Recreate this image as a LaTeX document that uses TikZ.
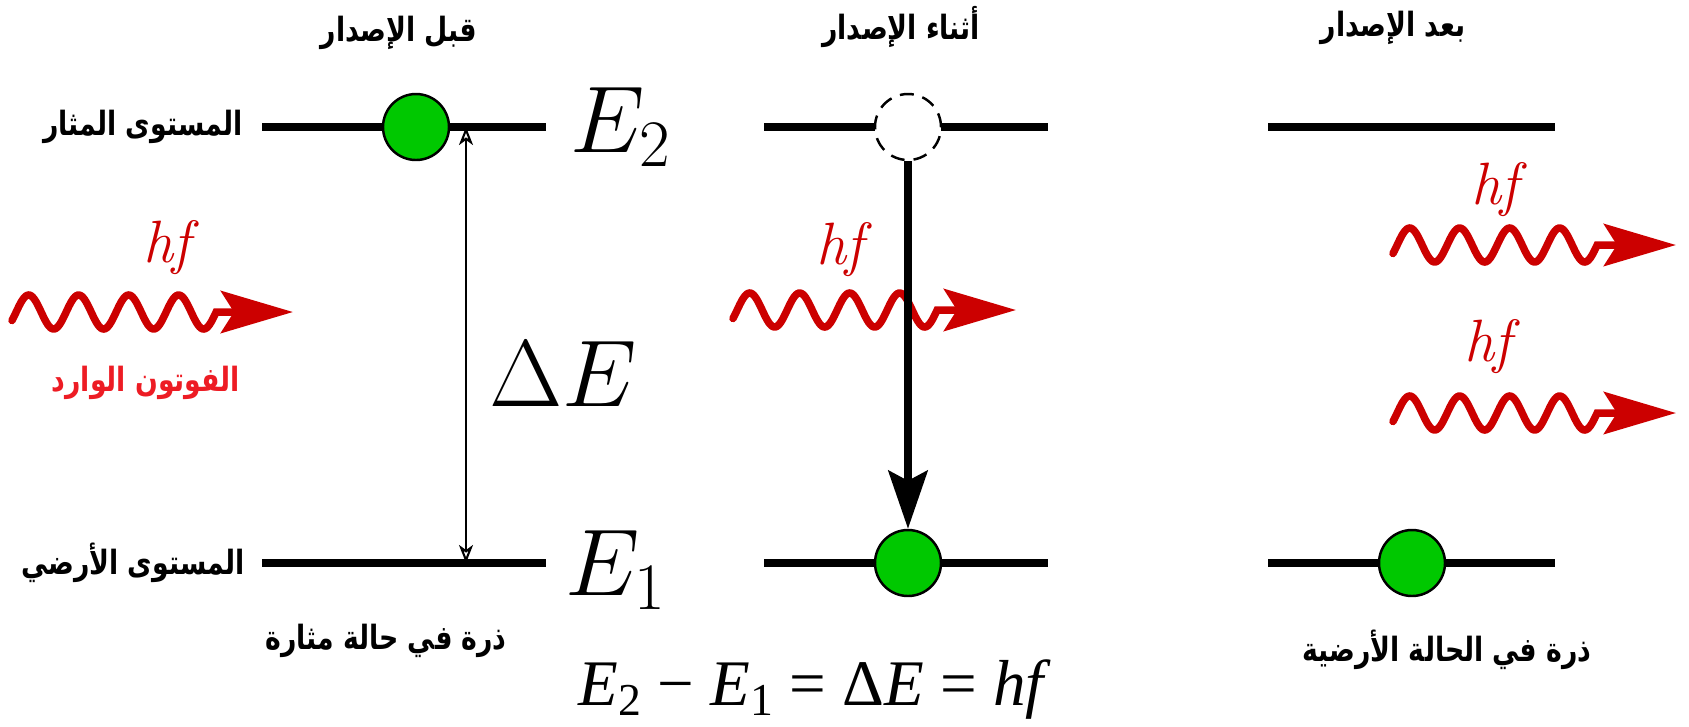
\RequirePackage{fix-cm}
\documentclass[tikz,border=0pt]{standalone}
\usepackage{fontspec}
\usepackage{tikz}
\usetikzlibrary{arrows.meta, positioning}
\TeXXeTstate=1
\newfontfamily\arabicfont[Script=Arabic, FakeStretch=0.8]{DejaVu Sans}
\newfontfamily\eqfont{Liberation Serif}
\definecolor{atomgreen}{RGB}{0,200,0}
\definecolor{photonred}{RGB}{204,0,0}
\definecolor{labelred}{RGB}{237,28,36}
\newcommand{\lowsub}[1]{\raisebox{-0.16em}{\fontsize{13}{15}\selectfont #1}}

\begin{document}
\begin{tikzpicture}[
    x=0.1mm, y=-0.1mm,
    energyline/.style={line width=0.8mm},
    atom/.style={circle, draw, line width=0.7pt, fill=atomgreen, minimum size=6.6mm, inner sep=0pt},
    hole/.style={circle, draw, line width=0.7pt, dash pattern=on 1.4mm off 0.9mm, fill=white, minimum size=6.6mm, inner sep=0pt},
    photon/.style={draw=photonred, line width=0.75mm, line cap=round, -{Stealth[length=7.2mm, width=4.2mm, inset=1.3mm]}},
    arlabel/.style={font=\arabicfont\bfseries\fontsize{9.5}{11}\selectfont, inner sep=0pt},
    big/.style={font=\fontsize{27}{32}\selectfont, inner sep=0pt},
    hflabel/.style={text=photonred, font=\fontsize{17}{20}\selectfont\itshape, inner sep=0pt}
]
\useasboundingbox (0,0) rectangle (1689,726);

% Titles
\node[arlabel] (t_before) at (399,33) {\beginR قبل الإصدار\endR};
\node[arlabel] (t_during) at (901,27) {\beginR أثناء الإصدار\endR};
\node[arlabel] (t_after) at (1393,28) {\beginR بعد الإصدار\endR};

% Levels
\coordinate (l1_up_w) at (262,127);
\coordinate (l1_up_e) at (546,127);
\coordinate (l1_lo_w) at (262,563);
\coordinate (l1_lo_e) at (546,563);
\coordinate (l2_up_w) at (764,127);
\coordinate (l2_up_e) at (1048,127);
\coordinate (l2_lo_w) at (764,563);
\coordinate (l2_lo_e) at (1048,563);
\coordinate (l3_up_w) at (1268,127);
\coordinate (l3_up_e) at (1555,127);
\coordinate (l3_lo_w) at (1268,563);
\coordinate (l3_lo_e) at (1555,563);

\draw[energyline] (l1_up_w) -- (l1_up_e);
\draw[energyline] (l1_lo_w) -- (l1_lo_e);
\draw[energyline] (l2_up_w) -- (l2_up_e);
\draw[energyline] (l2_lo_w) -- (l2_lo_e);
\draw[energyline] (l3_up_w) -- (l3_up_e);
\draw[energyline] (l3_lo_w) -- (l3_lo_e);

\node[arlabel, anchor=east] (lbl_excited) at (243,127) {\beginR المستوى المثار\endR};
\node[arlabel, anchor=east] (lbl_ground) at (245,563) {\beginR المستوى الأرضي\endR};

% Energy gap
\coordinate (de_top) at (466,127);
\coordinate (de_bot) at (466,563);
\draw[line width=0.6pt, {Stealth[open, length=1.8mm, width=1.4mm, inset=0.5mm]}-{Stealth[open, length=1.8mm, width=1.4mm, inset=0.5mm]}] (de_top) -- (de_bot);
\node[big] (delta_e) at (563,374) {$\Delta E$};
\node[big, anchor=base west] (e_two) at (570,152) {$E_2$};
\node[big, anchor=base west] (e_one) at (565,595) {$E_1$};

% Photons
\draw[photon] plot[domain=-30:1440, samples=150] ({12+(\x+30)/7.2}, {312-17*sin(\x)}) -- (293,312);
\draw[photon] plot[domain=-30:1440, samples=150] ({733+(\x+30)/7.2}, {310-17*sin(\x)}) -- (1016,310);
\draw[photon] plot[domain=-30:1440, samples=150] ({1393+(\x+30)/7.2}, {245-17*sin(\x)}) -- (1676,245);
\draw[photon] plot[domain=-30:1440, samples=150] ({1393+(\x+30)/7.2}, {413-17*sin(\x)}) -- (1676,413);

\node[hflabel] (hf_in) at (167,248) {hf};
\node[hflabel] (hf_mid) at (840,250) {hf};
\node[hflabel] (hf_out1) at (1495,190) {hf};
\node[hflabel] (hf_out2) at (1488,347) {hf};
\node[arlabel, text=labelred] (lbl_in) at (146,383) {\beginR الفوتون الوارد\endR};

% Atoms
\node[atom] (atom_before) at (416,127) {};
\node[hole] (hole_mid) at (908,127) {};
\node[atom] (atom_mid) at (908,563) {};
\node[atom] (atom_after) at (1412,563) {};
\draw[line width=0.8mm, -{Stealth[length=5.8mm, width=3.9mm, inset=1mm]}] (hole_mid.south) -- (atom_mid.north);

\node[arlabel] (lbl_exc_atom) at (386,641) {\beginR ذرة في حالة مثارة\endR};
\node[arlabel] (lbl_gnd_atom) at (1447,650) {\beginR ذرة في الحالة الأرضية\endR};

% Relation
\node[anchor=base, font=\eqfont\fontsize{18.5}{22}\selectfont, inner sep=0pt] (relation) at (815,705) {\textit{E}\lowsub{2} − \textit{E}\lowsub{1} = Δ\textit{E} = \textit{hf}};

\end{tikzpicture}
\end{document}
